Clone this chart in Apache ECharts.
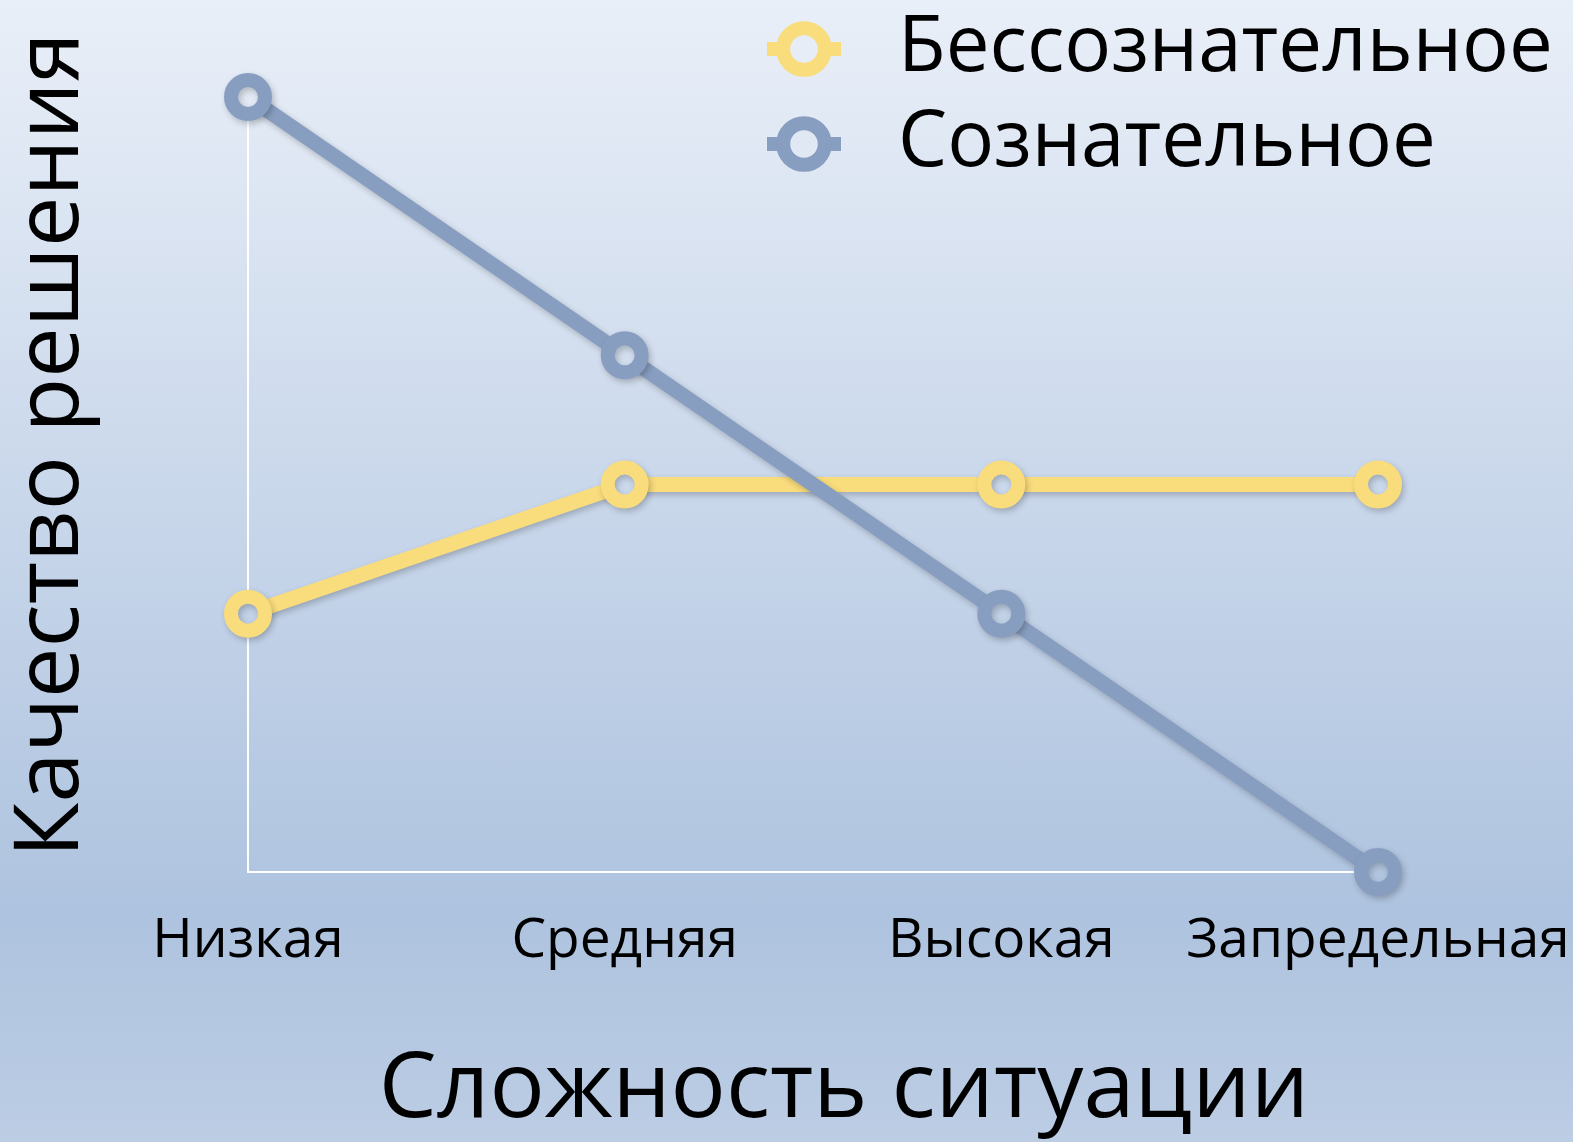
<!DOCTYPE html>
<html><head><meta charset="utf-8">
<script src="https://cdn.jsdelivr.net/npm/echarts@6/dist/echarts.min.js"></script>
<style>
html,body{margin:0;padding:0;}
#c{width:1573px;height:1142px;background:linear-gradient(to bottom,#e9eff8 0%,#aec3df 80%,#bccde4 100%);}
</style>
</head><body><div id="c"></div>
<script>
const categories = ['Низкая', 'Средняя', 'Высокая', 'Запредельная'];
const unconscious = [2, 3, 3, 3];
const conscious = [6, 4, 2, 0];
const seriesNames = ['Бессознательное', 'Сознательное'];
const xAxisName = 'Сложность ситуации';
const yAxisName = 'Качество решения';

const FONT = '"Open Sans", "Noto Sans", "DejaVu Sans", sans-serif';
const YELLOW = '#f9dc7c';
const BLUE = '#889ec1';
const H = 1142;
const bgStops = [[0, [233, 239, 248]], [0.8, [174, 195, 223]], [1, [188, 205, 228]]];
function bgAt(f) {
  f = Math.max(0, Math.min(1, f));
  for (let i = 1; i < bgStops.length; i++) {
    if (f <= bgStops[i][0]) {
      const a = bgStops[i - 1], b = bgStops[i];
      const t = (f - a[0]) / (b[0] - a[0]);
      const c = a[1].map((v, k) => Math.round(v + (b[1][k] - v) * t));
      return 'rgb(' + c.join(',') + ')';
    }
  }
  return 'rgb(' + bgStops[bgStops.length - 1][1].join(',') + ')';
}

const chart = echarts.init(document.getElementById('c'), null, {renderer: 'canvas'});
const shadow = {shadowBlur: 6, shadowColor: 'rgba(0,0,0,0.22)', shadowOffsetX: 2, shadowOffsetY: 3};

function makeSeries(name, values, color, fills) {
  return {
    name: name,
    type: 'line',
    data: values.map((v, i) => ({value: v, itemStyle: {color: fills ? fills[i] : '#ffffff'}})),
    symbol: 'circle',
    symbolSize: 34,
    showAllSymbol: true,
    lineStyle: Object.assign({color: color, width: 15}, shadow),
    itemStyle: Object.assign({borderColor: color, borderWidth: 14}, shadow),
    emphasis: {disabled: true},
    animation: false
  };
}

const legendFill1 = bgAt(48 / H), legendFill2 = bgAt(143 / H);

const option = {
  backgroundColor: 'transparent',
  animation: false,
  grid: {left: 248, right: 195, top: 97, bottom: 270, containLabel: false},
  legend: {
    orient: 'vertical',
    left: 755,
    top: 5,
    itemWidth: 74,
    itemHeight: 52,
    itemGap: 17,
    selectedMode: false,
    textStyle: {fontFamily: FONT, fontSize: 78, color: '#000', lineHeight: 78, padding: [0, 0, 0, 52]},
    data: [
      {name: seriesNames[0], lineStyle: {color: YELLOW, width: 14}, itemStyle: {color: legendFill1, borderColor: YELLOW, borderWidth: 14}},
      {name: seriesNames[1], lineStyle: {color: BLUE, width: 14}, itemStyle: {color: legendFill2, borderColor: BLUE, borderWidth: 14}}
    ]
  },
  xAxis: {
    type: 'category',
    data: categories,
    boundaryGap: false,
    axisLine: {lineStyle: {color: '#ffffff', width: 2}},
    axisTick: {show: false},
    splitLine: {show: false},
    axisLabel: {fontFamily: FONT, fontSize: 55, color: '#000', margin: 42, interval: 0}
  },
  yAxis: {
    type: 'value',
    min: 0,
    max: 6,
    interval: 1,
    axisLine: {show: true, lineStyle: {color: '#ffffff', width: 2}},
    axisTick: {show: false},
    axisLabel: {show: false},
    splitLine: {show: false}
  },
  graphic: [
    {type: 'text', x: 52, y: 445, rotation: Math.PI / 2,
     style: {text: yAxisName, font: '90px ' + FONT, fill: '#000', align: 'center', verticalAlign: 'middle'}},
    {type: 'text', x: 844, y: 1091,
     style: {text: xAxisName, font: '92px ' + FONT, fill: '#000', align: 'center', verticalAlign: 'middle'}}
  ],
  series: [
    makeSeries(seriesNames[0], unconscious, YELLOW),
    makeSeries(seriesNames[1], conscious, BLUE)
  ]
};
chart.setOption(option);

// Fill marker holes with the background tone at their pixel height
const fills0 = unconscious.map((v, i) => bgAt(chart.convertToPixel({seriesIndex: 0}, [i, v])[1] / H));
const fills1 = conscious.map((v, i) => bgAt(chart.convertToPixel({seriesIndex: 1}, [i, v])[1] / H));
chart.setOption({series: [
  makeSeries(seriesNames[0], unconscious, YELLOW, fills0),
  makeSeries(seriesNames[1], conscious, BLUE, fills1)
]});
</script>
</body></html>
